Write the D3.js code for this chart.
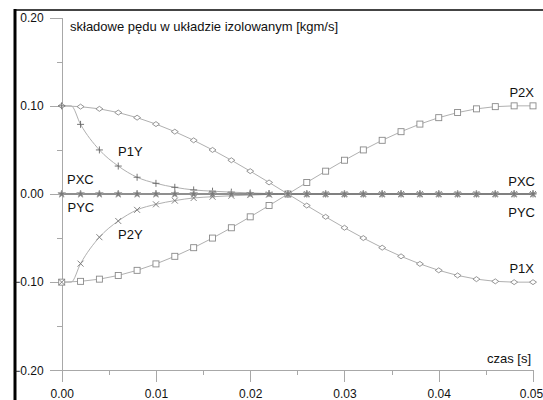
<!DOCTYPE html>
<html><head><meta charset="utf-8">
<script src="https://cdn.jsdelivr.net/npm/d3@7/dist/d3.min.js"></script>
<style>body{margin:0;background:#fff}svg{display:block;font-family:Arial,"Liberation Sans",sans-serif}</style>
</head><body><svg id="c" width="543" height="400"></svg>
<script>
// time axis (s)
const time = [0.000,0.002,0.004,0.006,0.008,0.010,0.012,0.014,0.016,0.018,0.020,0.022,0.024,
              0.026,0.028,0.030,0.032,0.034,0.036,0.038,0.040,0.042,0.044,0.046,0.048,0.050];
const timeY = [0.000,0.001,0.002,0.004,0.006,0.008,0.010,0.012,0.014,0.016,0.018,0.020,0.022,0.024,
               0.026,0.028,0.030,0.032,0.034,0.036,0.038,0.040,0.042,0.044,0.046,0.048,0.050];
const p1x = [0.100,0.0991,0.0966,0.0924,0.0866,0.0793,0.0707,0.0609,0.0500,0.0383,0.0259,0.0131,0.000,
             -0.0131,-0.0259,-0.0383,-0.0500,-0.0609,-0.0707,-0.0793,-0.0866,-0.0924,-0.0966,-0.0991,-0.100,-0.100];
const p2x = [-0.100,-0.0991,-0.0966,-0.0924,-0.0866,-0.0793,-0.0707,-0.0609,-0.0500,-0.0383,-0.0259,-0.0131,0.000,
             0.0131,0.0259,0.0383,0.0500,0.0609,0.0707,0.0793,0.0866,0.0924,0.0966,0.0991,0.100,0.100];
const p1y = [0.100,0.100,0.079,0.050,0.0317,0.0190,0.0121,0.0076,0.0046,0.0032,0.0021,0.0012,0.0005,0.000,
             0,0,0,0,0,0,0,0,0,0,0,0,0];
const p2y = [-0.100,-0.100,-0.079,-0.049,-0.0306,-0.0180,-0.0117,-0.0075,-0.0045,-0.0031,-0.0020,-0.0012,-0.0005,0.000,
             0,0,0,0,0,0,0,0,0,0,0,0,0];
const pxc = [0,0,0,0,0,0,0,0,0,0,0,0,0,0,0,0,0,0,0,0,0,0,0,0,0,0];
const pyc = [0,0,0,0,0,0,0,0,0,0,0,0,0,0,0,0,0,0,0,0,0,0,0,0,0,0];

const xMajor = [0,0.01,0.02,0.03,0.04,0.05];
const xMinor = [0.005,0.015,0.025,0.035,0.045];
const yMajor = [-0.2,-0.1,0,0.1,0.2];
const yMinor = [-0.15,-0.05,0.05,0.15];

const title = "składowe pędu w układzie izolowanym [kgm/s]";
const xTitle = "czas [s]";

const svg = d3.select("#c");
const x = d3.scaleLinear().domain([0,0.05]).range([61.7,533]);
const y = d3.scaleLinear().domain([-0.2,0.2]).range([370.3,17.7]);

// frame
svg.append("line").attr("x1",15).attr("x2",543).attr("y1",10).attr("y2",10).attr("stroke","#444").attr("stroke-width",2);
svg.append("line").attr("x1",15).attr("x2",15).attr("y1",9).attr("y2",400).attr("stroke","#000").attr("stroke-width",3);

const axColor = "#a8a8a8";
function styleAxis(g){
  g.selectAll("path,line").attr("stroke",axColor).attr("shape-rendering","crispEdges");
  g.selectAll("text").attr("fill","#111").attr("font-size",12).attr("font-family","Arial, 'Liberation Sans', sans-serif");
}
svg.append("g").attr("transform","translate(61.7,0)")
  .call(d3.axisLeft(y).tickValues(yMinor).tickSize(5).tickSizeOuter(0).tickFormat(""))
  .call(styleAxis);
svg.append("g").attr("transform","translate(61.7,0)")
  .call(d3.axisLeft(y).tickValues(yMajor).tickSize(12).tickSizeOuter(0).tickPadding(6).tickFormat(d3.format(".2f")))
  .call(styleAxis);
svg.append("g").attr("transform","translate(0,370.3)")
  .call(d3.axisBottom(x).tickValues(xMinor).tickSize(5).tickSizeOuter(0).tickFormat(""))
  .call(styleAxis);
const xAx = svg.append("g").attr("transform","translate(0,370.3)")
  .call(d3.axisBottom(x).tickValues(xMajor).tickSize(12).tickSizeOuter(0).tickPadding(7).tickFormat(d3.format(".2f")))
  .call(styleAxis);
// keep the last label inside the picture
xAx.selectAll(".tick text").filter(d=>d===0.05).attr("dx",-2);

const lineGray = "#b0b0b0", markGray = "#8a8a8a";
function drawLine(tt, vv, color, width, curve){
  const pts = tt.map((t,i)=>[t,vv[i]]);
  svg.append("path").datum(pts)
    .attr("fill","none").attr("stroke",color).attr("stroke-width",width)
    .attr("d", d3.line().x(d=>x(d[0])).y(d=>y(d[1])).curve(curve||d3.curveLinear));
}
function drawMarkers(tt, vv, type){
  const pts = tt.map((t,i)=>[t,vv[i]]).filter(d=>Math.round(d[0]*1000)%2===0);
  const g = svg.append("g");
  pts.forEach(d=>{
    const cx = x(d[0]), cy = y(d[1]);
    if(type==="diamond"){
      g.append("path").attr("d",`M${cx-3.5},${cy}L${cx},${cy-2.5}L${cx+3.5},${cy}L${cx},${cy+2.5}Z`)
       .attr("fill","#fff").attr("stroke",markGray).attr("stroke-width",0.9);
    } else if(type==="square"){
      g.append("rect").attr("x",cx-3).attr("y",cy-3).attr("width",6).attr("height",6)
       .attr("fill","#fff").attr("stroke",markGray).attr("stroke-width",0.9);
    } else if(type==="plus"){
      g.append("path").attr("d",`M${cx-3.5},${cy}H${cx+3.5}M${cx},${cy-3.5}V${cy+3.5}`)
       .attr("stroke","#666").attr("stroke-width",0.9);
    } else if(type==="cross"){
      g.append("path").attr("d",`M${cx-3},${cy-3}L${cx+3},${cy+3}M${cx-3},${cy+3}L${cx+3},${cy-3}`)
       .attr("stroke","#777").attr("stroke-width",0.9);
    } else if(type==="star"){
      g.append("path").attr("transform",`translate(${cx},${cy})`)
       .attr("d", d3.symbol().type(d3.symbolStar).size(18)())
       .attr("fill","#777").attr("stroke","#aaa").attr("stroke-width",0.5);
    }
  });
}

drawLine(time, p1x, lineGray, 1);
drawLine(time, p2x, lineGray, 1);
drawLine(timeY, p1y, lineGray, 1, d3.curveMonotoneX);
drawLine(timeY, p2y, lineGray, 1, d3.curveMonotoneX);
drawLine(time, pxc, "#6a6a6a", 1.2);
drawLine(time, pyc, "#6a6a6a", 1.2);

drawMarkers(time, p1x, "diamond");
drawMarkers(time, p2x, "square");
drawMarkers(timeY, p1y, "plus");
drawMarkers(timeY, p2y, "cross");
drawMarkers(time, pxc, "star");
drawMarkers(time, pyc, "star");

// texts
const tf = "Arial, 'Liberation Sans', sans-serif";
svg.append("text").attr("x",70).attr("y",31).attr("font-size",13).attr("font-family",tf).attr("fill","#111").text(title);
svg.append("text").attr("x",531).attr("y",363).attr("text-anchor","end").attr("font-size",13).attr("font-family",tf).attr("fill","#111").text(xTitle);

const seriesLabels = [
  {t:"P1Y", x:118, y:156, a:"start"},
  {t:"P2Y", x:118, y:239, a:"start"},
  {t:"PXC", x:67, y:184, a:"start"},
  {t:"PYC", x:67.5, y:211.5, a:"start"},
  {t:"P2X", x:534, y:96.5, a:"end"},
  {t:"PXC", x:535, y:186, a:"end"},
  {t:"PYC", x:535, y:217, a:"end"},
  {t:"P1X", x:534, y:273, a:"end"}
];
seriesLabels.forEach(l=>{
  svg.append("text").attr("x",l.x).attr("y",l.y).attr("text-anchor",l.a)
    .attr("font-size",13).attr("font-family",tf).attr("fill","#111").text(l.t);
});
</script></body></html>
